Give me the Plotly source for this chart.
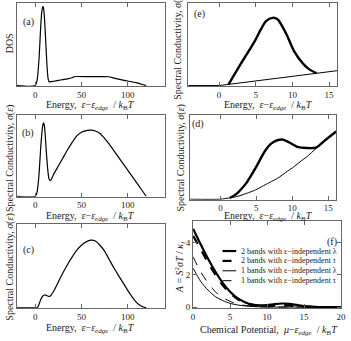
import plotly.graph_objects as go

W, H = 351, 341

# ---------------- data ----------------
# (a) density of states
a_x = [-20, 0, 2, 4, 6, 7, 8, 8.5, 9, 10, 11, 12, 13, 14, 15, 16, 20, 25, 30, 35, 40, 42, 60, 79, 85, 90, 95, 100, 105, 110, 115, 120]
a_y = [0, 0, 0.06, 0.3, 0.72, 0.88, 0.95, 0.956, 0.94, 0.82, 0.62, 0.4, 0.2, 0.08, 0.045, 0.045, 0.052, 0.062, 0.072, 0.082, 0.094, 0.107, 0.107, 0.107, 0.09, 0.078, 0.066, 0.055, 0.044, 0.032, 0.016, 0.0]

# (b) spectral conductivity
b_x = [-20, 0, 2, 4, 6, 8, 9, 10, 11, 12, 13, 14, 15, 16.5, 18, 20, 25, 30, 35, 40, 45, 50, 55, 60, 65, 70, 75, 80, 85, 90, 95, 100, 105, 110, 115, 120]
b_y = [0, 0, 0.05, 0.25, 0.6, 0.86, 0.9, 0.86, 0.72, 0.55, 0.4, 0.28, 0.21, 0.19, 0.22, 0.27, 0.37, 0.47, 0.57, 0.66, 0.74, 0.785, 0.805, 0.81, 0.8, 0.77, 0.71, 0.64, 0.56, 0.48, 0.40, 0.32, 0.24, 0.16, 0.08, 0.0]

# (c) spectral conductivity
c_x = [-20, 0, 2, 4, 6, 8, 10, 12, 14, 16, 20, 25, 30, 35, 40, 45, 50, 55, 60, 65, 70, 75, 80, 85, 90, 95, 100, 105, 110, 115, 120]
c_y = [0, 0, 0.0, 0.04, 0.1, 0.14, 0.155, 0.15, 0.14, 0.14, 0.2, 0.31, 0.42, 0.52, 0.61, 0.69, 0.75, 0.79, 0.81, 0.8, 0.75, 0.68, 0.58, 0.48, 0.39, 0.30, 0.21, 0.13, 0.06, 0.02, 0.0]

# (e) one band (thin) and two bands (thick)
e_thin_x = [-4.2, 0, 16.1]
e_thin_y = [0, 0, 0.18]
e_thick_x = [1.3, 2, 3, 4, 5, 5.7, 6.4, 7.3, 8.0, 8.6, 9.3, 10.2, 11.5, 12.4, 13.3]
e_thick_y = [0.015, 0.12, 0.27, 0.41, 0.56, 0.68, 0.78, 0.82, 0.80, 0.72, 0.60, 0.42, 0.26, 0.19, 0.15]

# (d) one band (thin) and two bands (thick)
d_thin_x = [-4.2, 0, 1, 2.2, 3, 4.9, 6, 7.1, 8, 9.3, 10, 11.5, 12, 13.3, 14, 15, 16.1]
d_thin_y = [0, 0, 0.012, 0.03, 0.05, 0.11, 0.16, 0.21, 0.25, 0.33, 0.37, 0.47, 0.5, 0.6, 0.65, 0.72, 0.8]
d_thick_x = [1.3, 2.2, 3, 3.6, 4.9, 6.2, 7.1, 8.0, 8.7, 9.6, 10.7, 12.0, 13.3, 14.6, 16.1]
d_thick_y = [0.015, 0.06, 0.13, 0.19, 0.37, 0.57, 0.66, 0.70, 0.705, 0.67, 0.62, 0.605, 0.61, 0.70, 0.8]

# (f) A = S^2 sigma T / kappa_l vs chemical potential
f_x = [0, 1, 2, 3, 4, 5, 6, 7, 8, 9, 10, 11, 12, 13, 14, 15, 16, 17, 20]
f_2lam = [4.85, 3.9, 3.0, 2.2, 1.5, 0.95, 0.55, 0.3, 0.15, 0.1, 0.12, 0.18, 0.22, 0.2, 0.13, 0.06, 0.02, 0.0, 0.0]
f_2tau = [4.4, 3.6, 2.75, 2.0, 1.35, 0.85, 0.5, 0.27, 0.13, 0.07, 0.06, 0.08, 0.1, 0.09, 0.06, 0.03, 0.01, 0.0, 0.0]
f_1lam = [2.4, 1.6, 1.05, 0.65, 0.4, 0.23, 0.13, 0.07, 0.03, 0.01, 0.0, 0.0, 0.0, 0.0, 0.0, 0.0, 0.0, 0.0, 0.0]
f_1tau = [3.1, 2.2, 1.5, 0.95, 0.6, 0.35, 0.2, 0.1, 0.05, 0.02, 0.01, 0.0, 0.0, 0.0, 0.0, 0.0, 0.0, 0.0, 0.0]

legend_labels = ["2 bands with ε−independent λ", "2 bands with ε−independent τ",
                 "1 bands with ε−independent λ", "1 bands with ε−independent τ"]

energy_ticks = [0, 50, 100]
zoom_ticks = [0, 5, 10, 15]
mu_ticks = [0, 5, 10, 15, 20]
A_ticks = [0, 2, 4]

# ---------------- figure ----------------
FONT = "Liberation Serif"
fig = go.Figure()

def px(x):
    return x / W

def py(y):
    return 1 - y / H

def add(x, y, ax, width=1.2, dash="solid", shape="spline"):
    fig.add_trace(go.Scatter(x=x, y=y, mode="lines", xaxis="x" + ax, yaxis="y" + ax,
                             line=dict(color="black", width=width, dash=dash, shape=shape, smoothing=0.7),
                             showlegend=False, hoverinfo="skip"))

add(a_x, a_y, "")
add(b_x, b_y, "2")
add(c_x, c_y, "3")
add(e_thin_x, e_thin_y, "4", width=1.0, shape="linear")
add(e_thick_x, e_thick_y, "4", width=2.4)
add(d_thin_x, d_thin_y, "5", width=1.0)
add(d_thick_x, d_thick_y, "5", width=2.4)
add(f_x, f_2lam, "6", width=2.2)
add(f_x, f_2tau, "6", width=2.2, dash="dash")
add(f_x, f_1lam, "6", width=1.0)
add(f_x, f_1tau, "6", width=1.0, dash="dash")

frame = "#666666"
common_x = dict(showline=True, mirror="ticks", linecolor=frame, linewidth=1, ticks="inside",
                ticklen=4, tickcolor=frame, showgrid=False, zeroline=False,
                tickfont=dict(family=FONT, size=9, color="#222"))
common_y_blank = dict(showline=True, mirror=True, linecolor=frame, linewidth=1, ticks="",
                      showticklabels=False, showgrid=False, zeroline=False)

# pixel frames: (left, right, top, bottom)
frames = {
    "": (15, 166, 3, 87),
    "2": (15, 166, 116, 199),
    "3": (15, 166, 227, 312),
    "4": (190, 342, 3, 87),
    "5": (192, 341, 116, 202),
    "6": (195, 346, 224, 312),
}
xranges = {"": [-20, 140], "2": [-20, 140], "3": [-20, 140], "4": [-4.2, 16.1], "5": [-4.2, 16.1], "6": [0, 20]}
xticks = {"": energy_ticks, "2": energy_ticks, "3": energy_ticks, "4": zoom_ticks, "5": zoom_ticks, "6": mu_ticks}

layout = {}
for k, (l, r, t, b) in frames.items():
    xa = dict(common_x, domain=[px(l), px(r)], range=xranges[k], tickvals=xticks[k],
              anchor="y" + k)
    if k == "6":
        ya = dict(common_x, domain=[py(b), py(t)], range=[-0.08, 5.3], tickvals=A_ticks,
                  anchor="x" + k)
    else:
        ya = dict(common_y_blank, domain=[py(b), py(t)], range=[-0.005, 1.0], anchor="x" + k)
    layout["xaxis" + k] = xa
    layout["yaxis" + k] = ya

fig.update_layout(**layout)

ann = []
def text(x, y, s, size=10, angle=0, xanchor="center"):
    ann.append(dict(x=px(x), y=py(y), xref="paper", yref="paper", text=s, showarrow=False,
                    textangle=angle, xanchor=xanchor, yanchor="middle",
                    font=dict(family=FONT, size=size, color="#222")))

energy_title = "Energy,  <i>ε</i>−<i>ε</i><sub><i>edge</i></sub>  / <i>k</i><sub>B</sub><i>T</i>"
mu_title = "Chemical Potential,  <i>μ</i>−<i>ε</i><sub><i>edge</i></sub>  / <i>k</i><sub>B</sub><i>T</i>"
sigma_title = "Spectral Conductivity, <i>σ</i>(<i>ε</i>)"

text(90.5, 107, energy_title)
text(90.5, 219.5, energy_title)
text(90.5, 332, energy_title)
text(272, 106.5, energy_title)
text(272, 219.5, energy_title)
text(272, 334, mu_title)

text(8, 44, "DOS", angle=-90)
text(8, 160, sigma_title, angle=-90)
text(8, 270, sigma_title, angle=-90)
text(180, 47, sigma_title, angle=-90)
text(183, 160, sigma_title, angle=-90)
text(181, 271, "<i>A</i> = <i>S</i><sup>2</sup><i>σT</i> / <i>κ</i><sub><i>l</i></sub>", angle=-90)

text(27, 22, "(a)")
text(27, 135, "(b)")
text(27, 253, "(c)")
text(202, 14, "(e)")
text(200, 125, "(d)")
text(337, 245, "(f)")

# legend of panel (f)
leg_rows = [254, 264, 274, 284]
leg_styles = [(2.2, "solid"), (2.2, "dash"), (1.0, "solid"), (1.0, "dash")]
shapes = []
for yy, lab, (w, d) in zip(leg_rows, legend_labels, leg_styles):
    shapes.append(dict(type="line", xref="paper", yref="paper", x0=px(225), x1=px(239),
                       y0=py(yy), y1=py(yy), line=dict(color="black", width=w, dash=d)))
    text(242, yy, lab, size=8, xanchor="left")

fig.update_layout(annotations=ann, shapes=shapes, width=W, height=H,
                  margin=dict(l=0, r=0, t=0, b=0), paper_bgcolor="white",
                  plot_bgcolor="white", showlegend=False)

fig.write_html("out.html")
